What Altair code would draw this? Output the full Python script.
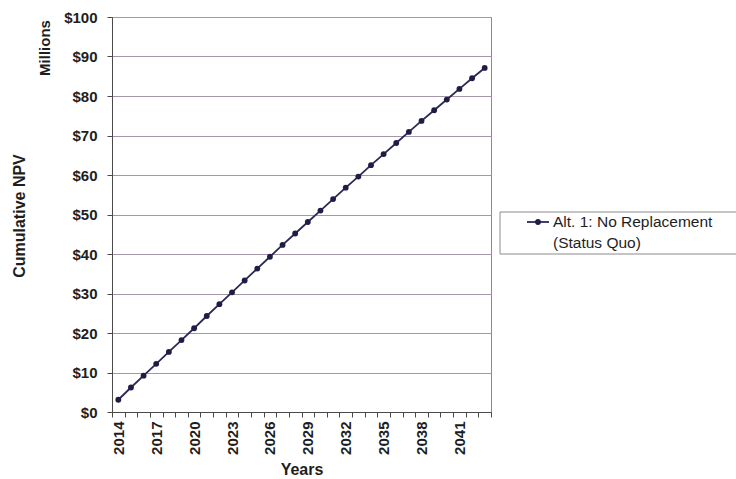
import altair as alt
import pandas as pd

# Cumulative net present value by year, in millions of dollars
years = list(range(2014, 2044))
npv_millions = [3.1, 6.2, 9.2, 12.2, 15.2, 18.2, 21.2, 24.3, 27.3, 30.3,
                33.3, 36.3, 39.3, 42.3, 45.2, 48.1, 51.0, 53.9, 56.8, 59.6,
                62.5, 65.3, 68.1, 70.9, 73.7, 76.4, 79.1, 81.8, 84.5, 87.1]
series_name = "Alt. 1: No Replacement"
series_note = "(Status Quo)"
unit_label = "Millions"
y_ticks = list(range(0, 101, 10))

W, H = 379, 395
LINE = "#2b2a55"
TEXT = "#1e1e1e"
FONT = "Liberation Sans"

df = pd.DataFrame({"Year": years, "NPV": npv_millions})

series = alt.Chart(df).mark_line(
    color=LINE, strokeWidth=1.8,
    point=alt.OverlayMarkDef(filled=True, size=34, color="#1f1d45"),
).encode(
    x=alt.X(
        "Year:O",
        scale=alt.Scale(type="band", paddingInner=0, paddingOuter=0),
        axis=alt.Axis(
            title="Years", labelAngle=-90, tickBand="extent",
            labelExpr="(datum.value - 2014) % 3 == 0 ? datum.label : ''",
            labelOverlap=False, tickSize=5, labelPadding=4, titlePadding=7,
        ),
    ),
    y=alt.Y(
        "NPV:Q",
        scale=alt.Scale(domain=[0, 100], nice=False),
        axis=alt.Axis(
            values=y_ticks, labelExpr="'$' + datum.value", grid=True,
            tickSize=5, labelPadding=10, title="Cumulative NPV",
            titleX=-93, titleY=H / 2 + 1, titleAngle=270,
            titleAlign="center", titleBaseline="middle",
        ),
    ),
)

unit = alt.Chart(pd.DataFrame({"t": [unit_label]})).mark_text(
    angle=270, font=FONT, fontSize=15, fontWeight="bold", color=TEXT,
    align="center", baseline="middle",
).encode(x=alt.value(-67), y=alt.value(31), text="t:N")

# Legend box with a line-and-marker key
legend_df = pd.DataFrame({"name": [series_name], "note": [series_note]})
legend_box = alt.Chart(legend_df).mark_rect(
    fill="white", stroke="#8a8a8a", strokeWidth=1
).encode(x=alt.value(388), x2=alt.value(660), y=alt.value(195), y2=alt.value(237))
legend_line = alt.Chart(legend_df).mark_rule(color=LINE, strokeWidth=1.8).encode(
    x=alt.value(415), x2=alt.value(437), y=alt.value(205)
)
legend_dot = alt.Chart(legend_df).mark_point(
    filled=True, size=34, color="#1f1d45", opacity=1
).encode(x=alt.value(426), y=alt.value(205))
legend_name = alt.Chart(legend_df).mark_text(
    align="left", baseline="middle", font=FONT, fontSize=15.5, color=TEXT
).encode(x=alt.value(441), y=alt.value(205), text="name:N")
legend_note = alt.Chart(legend_df).mark_text(
    align="left", baseline="middle", font=FONT, fontSize=15.5, color=TEXT
).encode(x=alt.value(441), y=alt.value(226), text="note:N")

chart = alt.layer(
    series, unit, legend_box, legend_line, legend_dot, legend_name, legend_note
).properties(
    width=W, height=H,
    autosize=alt.AutoSizeParams(type="none"),
    padding={"left": 112, "top": 17, "right": 245, "bottom": 67},
    background="white",
).configure_view(
    stroke="#8a8a8a", strokeWidth=1
).configure_axis(
    domainColor="#4a4a4a", tickColor="#4a4a4a", gridColor="#a597a8",
    labelFont=FONT, labelFontSize=15, labelFontWeight="bold", labelColor=TEXT,
    titleFont=FONT, titleFontSize=16, titleFontWeight="bold", titleColor=TEXT,
)

chart.save("out.html", embed_options={"renderer": "svg", "actions": False})
